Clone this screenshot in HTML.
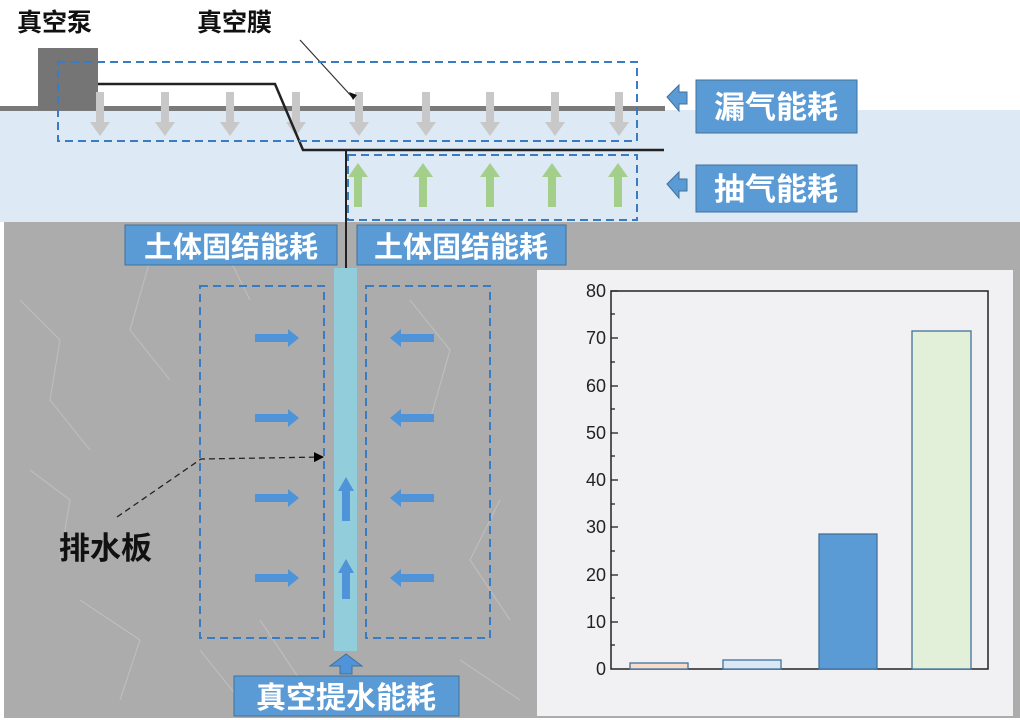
<!DOCTYPE html>
<html><head><meta charset="utf-8"><style>
html,body{margin:0;padding:0;background:#fff;}
svg{display:block;}
text{font-family:"Liberation Sans","Noto Sans CJK SC",sans-serif;}
</style></head><body>
<svg width="1020" height="720" viewBox="0 0 1020 720" xmlns="http://www.w3.org/2000/svg">
<defs>
<marker id="ah" markerWidth="10" markerHeight="10" refX="9" refY="5" orient="auto" markerUnits="userSpaceOnUse"><path d="M0,0 L10,5 L0,10 z" fill="#000"/></marker>
</defs>
<rect x="0" y="0" width="1020" height="720" fill="#fff"/>
<rect x="0" y="110" width="1020" height="112" fill="#dde9f5"/>
<rect x="4" y="222" width="1016" height="496" fill="#acacac"/>
<g stroke="#c8c8c8" stroke-width="1.2" fill="none" opacity="0.6">
<path d="M20,300 L60,340 L50,400 L90,450"/><path d="M150,260 L130,330 L170,380"/><path d="M80,600 L140,640 L120,700"/>
<path d="M260,620 L300,680"/><path d="M410,300 L450,350 L430,420"/><path d="M500,500 L470,560 L510,620"/><path d="M230,260 L250,300"/>
<path d="M30,470 L70,500 L60,560"/><path d="M200,650 L240,700"/><path d="M460,660 L520,700"/>
</g>
<rect x="0" y="106" width="665" height="5" fill="#7a7a7a"/>
<rect x="38" y="48" width="60" height="62" fill="#757575"/>
<g fill="#c8c8c8">
<path d="M96,92h8v30h6l-10,14l-10,-14h6z"/>
<path d="M161,92h8v30h6l-10,14l-10,-14h6z"/>
<path d="M226,92h8v30h6l-10,14l-10,-14h6z"/>
<path d="M292,92h8v30h6l-10,14l-10,-14h6z"/>
<path d="M355,92h8v30h6l-10,14l-10,-14h6z"/>
<path d="M422,92h8v30h6l-10,14l-10,-14h6z"/>
<path d="M486,92h8v30h6l-10,14l-10,-14h6z"/>
<path d="M551,92h8v30h6l-10,14l-10,-14h6z"/>
<path d="M615,92h8v30h6l-10,14l-10,-14h6z"/>
</g>
<g fill="#a4cf8a">
<path d="M354,207h8v-30h6l-10,-14l-10,14h6z"/>
<path d="M419,207h8v-30h6l-10,-14l-10,14h6z"/>
<path d="M486,207h8v-30h6l-10,-14l-10,14h6z"/>
<path d="M548,207h8v-30h6l-10,-14l-10,14h6z"/>
<path d="M614,207h8v-30h6l-10,-14l-10,14h6z"/>
</g>
<polyline points="98,84 275,84 303,150 664,150" fill="none" stroke="#222" stroke-width="2.5"/>
<line x1="346" y1="150" x2="346" y2="270" stroke="#222" stroke-width="2"/>
<line x1="300" y1="40" x2="353" y2="98" stroke="#333" stroke-width="1.2"/>
<path d="M349,92 l8,3 l-4,5 z" fill="#111"/>
<g fill="none" stroke="#3a7cc2" stroke-width="2" stroke-dasharray="8,5">
<rect x="58" y="62" width="579" height="79"/>
<rect x="348" y="155" width="289" height="65"/>
<rect x="200" y="286" width="124" height="352"/>
<rect x="366" y="286" width="124" height="352"/>
</g>
<text x="17" y="31" font-size="25" font-weight="bold" fill="#111">真空泵</text>
<text x="197" y="31" font-size="25" font-weight="bold" fill="#111">真空膜</text>
<path d="M667,97 l12,-12 v7 h8 v12 h-8 v7 z" fill="#5b9bd5" stroke="#41719c" stroke-width="1"/>
<rect x="696" y="80" width="161" height="53" fill="#5b9bd5" stroke="#41719c"/>
<text x="776" y="118" font-size="31" font-weight="bold" fill="#fff" text-anchor="middle">漏气能耗</text>
<path d="M667,184 l12,-12 v7 h8 v12 h-8 v7 z" fill="#5b9bd5" stroke="#41719c" stroke-width="1"/>
<rect x="696" y="165" width="161" height="47" fill="#5b9bd5" stroke="#41719c"/>
<text x="776" y="200" font-size="31" font-weight="bold" fill="#fff" text-anchor="middle">抽气能耗</text>
<rect x="125" y="225" width="212" height="40" fill="#5b9bd5" stroke="#41719c"/>
<text x="231" y="257" font-size="29" font-weight="bold" fill="#fff" text-anchor="middle">土体固结能耗</text>
<rect x="357" y="225" width="209" height="40" fill="#5b9bd5" stroke="#41719c"/>
<text x="461" y="257" font-size="29" font-weight="bold" fill="#fff" text-anchor="middle">土体固结能耗</text>
<rect x="334" y="268" width="23" height="383" fill="#92cddc"/>
<g fill="#4f93d8">
<path d="M255,334h33v-5l11,9l-11,9v-5h-33z"/>
<path d="M255,414h33v-5l11,9l-11,9v-5h-33z"/>
<path d="M255,494h33v-5l11,9l-11,9v-5h-33z"/>
<path d="M255,574h33v-5l11,9l-11,9v-5h-33z"/>
<path d="M434,334h-33v-5l-11,9l11,9v-5h33z"/>
<path d="M434,414h-33v-5l-11,9l11,9v-5h33z"/>
<path d="M434,494h-33v-5l-11,9l11,9v-5h33z"/>
<path d="M434,574h-33v-5l-11,9l11,9v-5h33z"/>
<path d="M342,521v-30h-4l8,-14l8,14h-4v30z"/>
<path d="M342,599v-26h-4l8,-14l8,14h-4v26z"/>
<path d="M340,674v-8h-10l16,-12l16,12h-10v8z" stroke="#41719c" stroke-width="1"/>
</g>
<polyline points="117,517 201,459 323,457" fill="none" stroke="#222" stroke-width="1.3" stroke-dasharray="6,4" marker-end="url(#ah)"/>
<text x="59" y="559" font-size="31" font-weight="bold" fill="#111">排水板</text>
<rect x="234" y="676" width="225" height="40" fill="#5b9bd5" stroke="#41719c"/>
<text x="346" y="708" font-size="30" font-weight="bold" fill="#fff" text-anchor="middle">真空提水能耗</text>
<rect x="537" y="270" width="476" height="446" fill="#f1f1f3"/>
<rect x="611" y="291" width="377" height="378" fill="none" stroke="#222" stroke-width="1.5"/>
<g stroke="#222" stroke-width="1.3">
<line x1="611" y1="291" x2="618" y2="291"/><line x1="611" y1="338" x2="618" y2="338"/>
<line x1="611" y1="386" x2="618" y2="386"/><line x1="611" y1="433" x2="618" y2="433"/>
<line x1="611" y1="480" x2="618" y2="480"/><line x1="611" y1="527" x2="618" y2="527"/>
<line x1="611" y1="575" x2="618" y2="575"/><line x1="611" y1="622" x2="618" y2="622"/>
<line x1="611" y1="314" x2="615" y2="314"/><line x1="611" y1="362" x2="615" y2="362"/>
<line x1="611" y1="409" x2="615" y2="409"/><line x1="611" y1="456" x2="615" y2="456"/>
<line x1="611" y1="504" x2="615" y2="504"/><line x1="611" y1="551" x2="615" y2="551"/>
<line x1="611" y1="598" x2="615" y2="598"/><line x1="611" y1="645" x2="615" y2="645"/>
</g>
<g font-family="Liberation Serif, serif" font-size="18" fill="#222" text-anchor="end">
<text x="606" y="297">80</text><text x="606" y="344">70</text><text x="606" y="392">60</text>
<text x="606" y="439">50</text><text x="606" y="486">40</text><text x="606" y="533">30</text>
<text x="606" y="581">20</text><text x="606" y="628">10</text><text x="606" y="675">0</text>
</g>
<rect x="630" y="663" width="58" height="6" fill="#f8dccb" stroke="#41719c" stroke-width="1.3"/>
<rect x="723" y="660" width="58" height="9" fill="#dae8f6" stroke="#41719c" stroke-width="1.3"/>
<rect x="819" y="534" width="58" height="135" fill="#5b9bd5" stroke="#41719c" stroke-width="1.3"/>
<rect x="912" y="331" width="59" height="338" fill="#e2efd9" stroke="#41719c" stroke-width="1.3"/>
</svg>
</body></html>
